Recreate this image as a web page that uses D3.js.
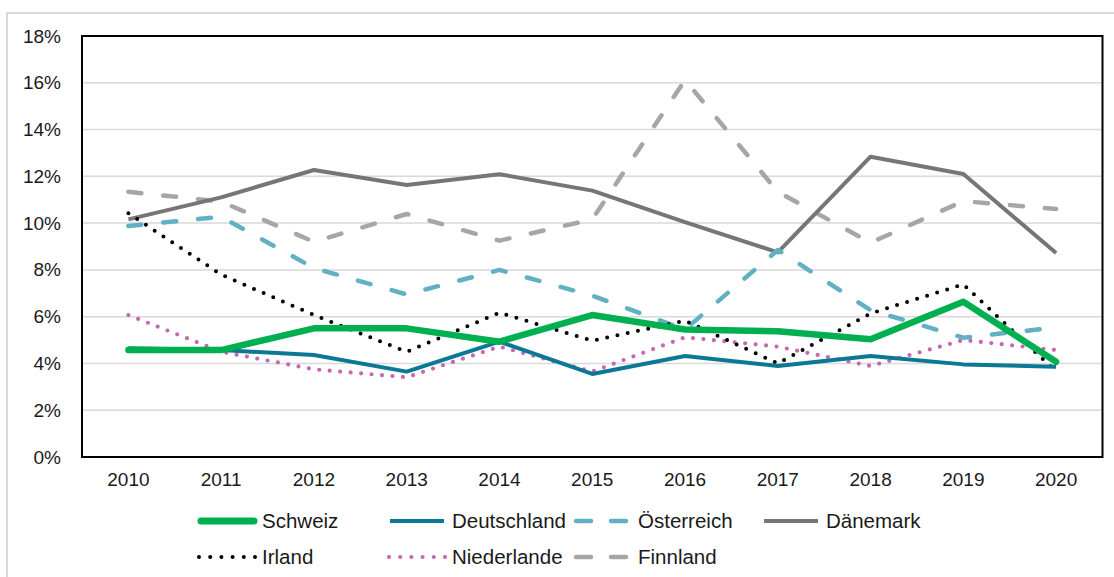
<!DOCTYPE html>
<html>
<head>
<meta charset="utf-8">
<script src="https://cdn.jsdelivr.net/npm/d3@7"></script>
<style>
  body { margin: 0; background: #fff; }
  svg { display: block; font-family: "Liberation Sans", Arial, sans-serif; }
</style>
</head>
<body>
<div id="chart"></div>
<script>
// donnees (en %)
var years = ["2010","2011","2012","2013","2014","2015","2016","2017","2018","2019","2020"];
var yTicks = [0, 2, 4, 6, 8, 10, 12, 14, 16, 18];

var schweiz     = [4.57, 4.57, 5.50, 5.50, 4.93, 6.07, 5.45, 5.38, 5.03, 6.64, 4.07];
var deutschland = [4.65, 4.57, 4.36, 3.65, 4.93, 3.55, 4.32, 3.89, 4.32, 3.96, 3.86];
var oesterreich = [9.88, 10.27, 8.08, 6.95, 8.00, 6.90, 5.45, 8.85, 6.28, 5.10, 5.54];
var daenemark   = [10.16, 11.10, 12.27, 11.63, 12.09, 11.39, 10.04, 8.75, 12.84, 12.10, 8.72];
var irland      = [10.42, 7.80, 6.07, 4.50, 6.17, 4.97, 5.83, 4.00, 6.14, 7.38, 3.65];
var niederlande = [6.07, 4.50, 3.75, 3.41, 4.72, 3.65, 5.12, 4.72, 3.89, 5.00, 4.57];
var finnland    = [11.34, 10.92, 9.20, 10.39, 9.25, 10.16, 16.12, 11.34, 9.16, 10.94, 10.60];

// series: ordre de dessin (Schweiz au dessus)
var series = [
  { name: "Finnland",    values: finnland,    color: "#a6a6a6", width: 4.5, dash: "13,22", cap: "round" },
  { name: "Dänemark",    values: daenemark,   color: "#767676", width: 4,   dash: null,    cap: "butt" },
  { name: "Österreich",  values: oesterreich, color: "#62b0c4", width: 4.5, dash: "13,22", cap: "round" },
  { name: "Niederlande", values: niederlande, color: "#c468b3", width: 4.2, dash: "0,10.5", cap: "round" },
  { name: "Irland",      values: irland,      color: "#000000", width: 4,   dash: "0,10.5", cap: "round" },
  { name: "Deutschland", values: deutschland, color: "#0b7896", width: 4,   dash: null,    cap: "butt" },
  { name: "Schweiz",     values: schweiz,     color: "#00b050", width: 6.5, dash: null,    cap: "round" }
];

var width = 1114, height = 577;
var margin = { top: 36, right: 11.5, bottom: 120, left: 82 };

var svg = d3.select("#chart")
  .append("svg")
  .attr("width", width)
  .attr("height", height);

// cadre exterieur
svg.append("rect")
  .attr("x", 7).attr("y", 13)
  .attr("width", 1130).attr("height", 600)
  .attr("fill", "none")
  .attr("stroke", "#d9d9d9")
  .attr("stroke-width", 2);

var x = d3.scaleBand()
  .domain(years)
  .range([margin.left, width - margin.right]);

var y = d3.scaleLinear()
  .domain([0, 18])
  .range([height - margin.bottom, margin.top]);

// grille
svg.append("g")
  .selectAll("line")
  .data(yTicks.slice(1, -1))
  .join("line")
  .attr("x1", margin.left)
  .attr("x2", width - margin.right)
  .attr("y1", d => y(d))
  .attr("y2", d => y(d))
  .attr("stroke", "#d9d9d9")
  .attr("stroke-width", 1.5);

// axe y
var yAxis = svg.append("g")
  .attr("transform", "translate(" + margin.left + ",0)")
  .call(d3.axisLeft(y).tickValues(yTicks).tickFormat(d => d + "%").tickSize(0).tickPadding(21));
yAxis.select(".domain").remove();
yAxis.selectAll("text")
  .attr("font-size", "19px")
  .attr("font-family", "Liberation Sans, Arial, sans-serif")
  .attr("fill", "#1a1a1a");

// axe x
var xAxis = svg.append("g")
  .attr("transform", "translate(0," + y(0) + ")")
  .call(d3.axisBottom(x).tickSize(0).tickPadding(16));
xAxis.select(".domain").remove();
xAxis.selectAll("text")
  .attr("font-size", "19px")
  .attr("font-family", "Liberation Sans, Arial, sans-serif")
  .attr("fill", "#1a1a1a");

// lignes
var line = d3.line()
  .x((d, i) => x(years[i]) + x.bandwidth() / 2)
  .y(d => y(d));

svg.append("g")
  .selectAll("path")
  .data(series)
  .join("path")
  .attr("d", d => line(d.values))
  .attr("fill", "none")
  .attr("stroke", d => d.color)
  .attr("stroke-width", d => d.width)
  .attr("stroke-dasharray", d => d.dash)
  .attr("stroke-linecap", d => d.cap)
  .attr("stroke-linejoin", "round");

// cadre du graphique
svg.append("rect")
  .attr("x", margin.left)
  .attr("y", margin.top)
  .attr("width", width - margin.right - margin.left)
  .attr("height", y(0) - margin.top)
  .attr("fill", "none")
  .attr("stroke", "#000")
  .attr("stroke-width", 2);

// legende
var legendOrder = ["Schweiz", "Deutschland", "Österreich", "Dänemark", "Irland", "Niederlande", "Finnland"];
var legendCols = [198, 388, 574, 762];
var legendRows = [521, 557];

var legend = svg.append("g")
  .selectAll("g")
  .data(legendOrder.map(n => series.find(s => s.name === n)))
  .join("g")
  .attr("transform", (d, i) => "translate(" + legendCols[i % 4] + "," + legendRows[Math.floor(i / 4)] + ")");

legend.append("line")
  .attr("x1", d => d.cap === "round" && d.dash === null ? 3 : (d.dash && d.dash.indexOf("0,") === 0 ? 1 : 2))
  .attr("x2", d => d.dash && d.dash.indexOf("0,") === 0 ? 58 : 56)
  .attr("stroke", d => d.color)
  .attr("stroke-width", d => d.name === "Schweiz" ? 7 : d.width)
  .attr("stroke-dasharray", d => d.dash ? (d.dash.indexOf("0,") === 0 ? "0,11.2" : "15,20") : null)
  .attr("stroke-linecap", d => d.cap);

legend.append("text")
  .attr("x", 64)
  .attr("dy", "0.35em")
  .attr("font-size", "20.5px")
  .attr("fill", "#1a1a1a")
  .text(d => d.name);
</script>
</body>
</html>
